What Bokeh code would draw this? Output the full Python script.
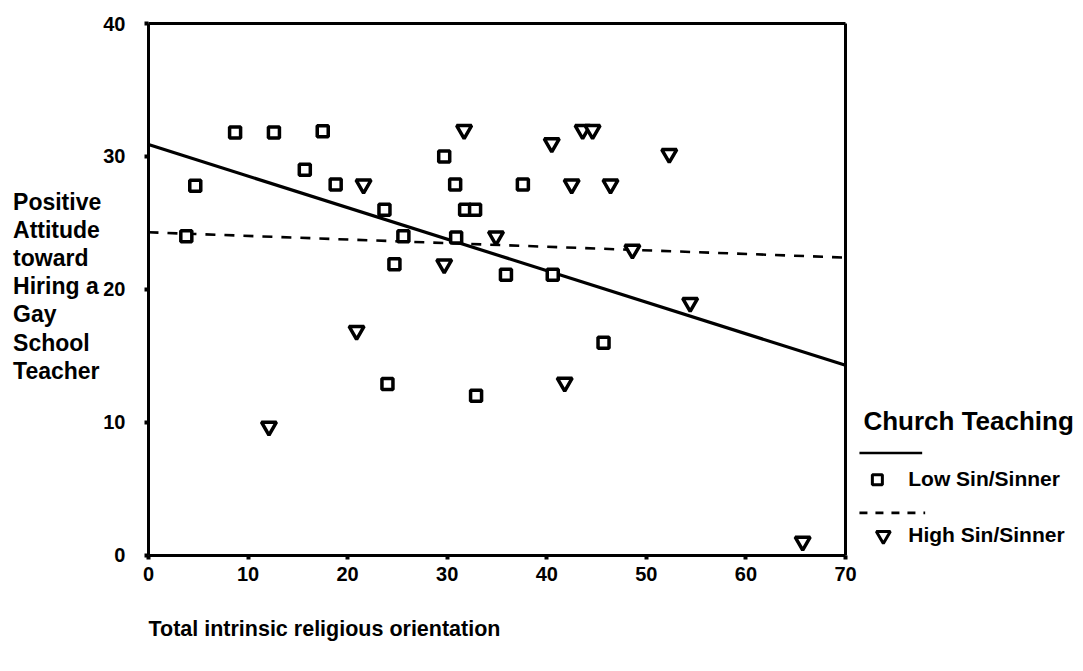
from bokeh.plotting import figure
from bokeh.models import Range1d, FixedTicker, Label
from bokeh.embed import file_html
from bokeh.resources import INLINE

# ---- data ----
low_x = [3.8, 4.7, 8.7, 12.6, 15.7, 17.5, 18.8, 23.7, 24.0, 24.7, 25.6, 29.7, 30.8, 30.9, 31.8, 32.8, 32.9, 35.9, 37.6, 40.6, 45.7]
low_y = [24, 27.8, 31.8, 31.8, 29, 31.9, 27.9, 26, 12.9, 21.9, 24, 30, 27.9, 23.9, 26, 26, 12, 21.1, 27.9, 21.1, 16]
high_x = [12.1, 20.9, 21.6, 29.7, 31.7, 34.9, 40.5, 41.8, 42.5, 43.6, 44.6, 46.4, 48.6, 52.3, 54.4, 65.7]
high_y = [9.7, 16.9, 27.9, 21.9, 32, 24, 31, 13, 27.9, 32, 32, 27.9, 23, 30.2, 19, 1.05]
fit_x = [0, 70]
low_fit = [30.9, 14.3]
high_fit = [24.3, 22.4]
x_ticks = [0, 10, 20, 30, 40, 50, 60, 70]
y_ticks = [0, 10, 20, 30, 40]
y_title_lines = ["Positive", "Attitude", "toward", "Hiring a", "Gay", "School", "Teacher"]
x_title = "Total intrinsic religious orientation"
legend_title = "Church Teaching"
legend_labels = ["Low Sin/Sinner", "High Sin/Sinner"]

X_MIN, X_MAX, Y_MIN, Y_MAX = 0, 70, 0, 40
FONT = "Liberation Sans"

# the frame covers the whole canvas; the axes sit at x=0 / y=0 inside it
p = figure(width=1080, height=668, output_backend="svg", toolbar_location=None,
           x_range=Range1d(-14.86, 93.6), y_range=Range1d(-8.5, 41.73),
           min_border=0)
p.outline_line_color = None
p.grid.visible = False
p.background_fill_color = "white"
p.border_fill_color = "white"

for ax, ticks, bnd in ((p.xaxis[0], x_ticks, (X_MIN, X_MAX)), (p.yaxis[0], y_ticks, (Y_MIN, Y_MAX))):
    ax.ticker = FixedTicker(ticks=ticks)
    ax.bounds = bnd
    ax.fixed_location = 0
    ax.axis_line_width = 3
    ax.axis_line_color = "black"
    ax.major_tick_in = 0
    ax.major_tick_out = 4
    ax.major_tick_line_width = 4
    ax.minor_tick_line_color = None
    ax.major_label_text_font = FONT
    ax.major_label_text_font_style = "bold"
    ax.major_label_text_font_size = "20px"
    ax.major_label_text_color = "black"
p.xaxis.major_label_standoff = 8
p.yaxis.major_label_standoff = 19

# frame box (top and right sides)
p.segment(x0=[X_MIN, X_MAX], y0=[Y_MAX, Y_MIN], x1=[X_MAX, X_MAX], y1=[Y_MAX, Y_MAX],
          line_color="black", line_width=3)

# regression lines
p.line(fit_x, low_fit, line_color="black", line_width=3.2)
p.line(fit_x, high_fit, line_color="black", line_width=2.6, line_dash="10 9")

# points
p.scatter(low_x, low_y, marker="square", size=11, fill_color="white",
          line_color="black", line_width=3.5)
p.scatter(high_x, high_y, marker="inverted_triangle", size=15, fill_color="white",
          line_color="black", line_width=3.5)

# y-axis title, one line per row, left aligned
for i, t in enumerate(y_title_lines):
    p.add_layout(Label(x=-13.6, y=26.6 - 2.12 * i, text=t, text_font=FONT,
                       text_font_style="bold", text_font_size="23px",
                       text_baseline="middle", text_align="left", text_color="black"))

# x-axis title
p.add_layout(Label(x=0, y=-5.5, text=x_title, text_font=FONT, text_font_style="bold",
                   text_font_size="21.5px", text_baseline="middle", text_align="left",
                   text_color="black"))

# legend
p.add_layout(Label(x=71.8, y=10.1, text=legend_title, text_font=FONT, text_font_style="bold",
                   text_font_size="26px", text_baseline="middle", text_align="left",
                   text_color="black"))
p.line([71.4, 77.7], [7.7, 7.7], line_color="black", line_width=2.6)
p.scatter([73.2], [5.7], marker="square", size=10, fill_color="white",
          line_color="black", line_width=3)
p.line([71.4, 78.0], [3.2, 3.2], line_color="black", line_width=2.6, line_dash="8 8")
p.scatter([73.8], [1.5], marker="inverted_triangle", size=14, fill_color="white",
          line_color="black", line_width=3)
for yy, t in zip([5.8, 1.6], legend_labels):
    p.add_layout(Label(x=76.3, y=yy, text=t, text_font=FONT, text_font_style="bold",
                       text_font_size="21px", text_baseline="middle", text_align="left",
                       text_color="black"))

open("out.html", "w").write(file_html(p, INLINE))
